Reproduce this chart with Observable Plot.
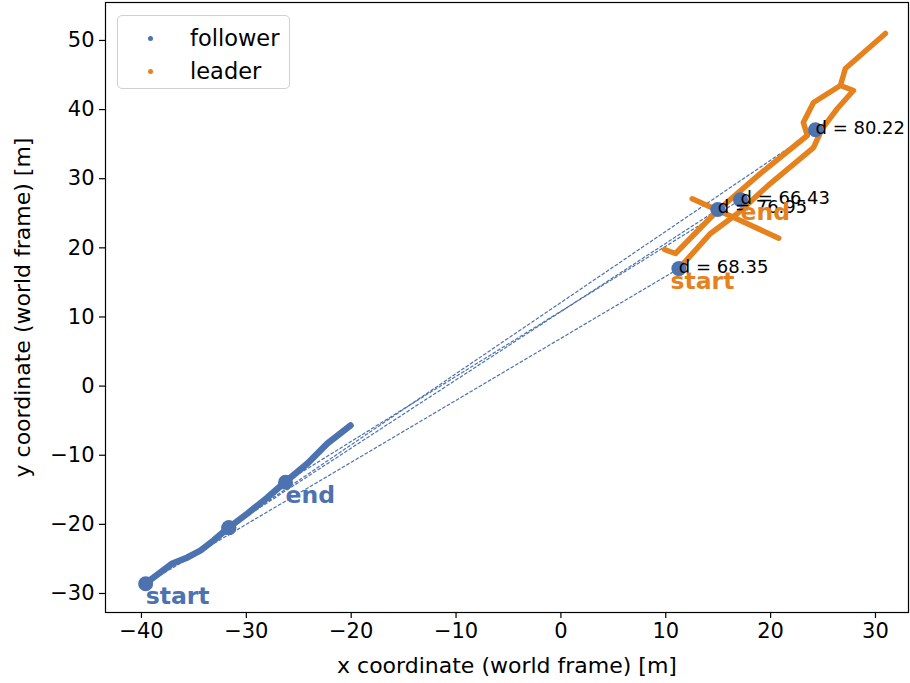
<!DOCTYPE html>
<html>
<head>
<meta charset="utf-8">
<script src="https://cdn.jsdelivr.net/npm/d3@7"></script>
<script src="https://cdn.jsdelivr.net/npm/@observablehq/plot@0.6"></script>
<style>
  body { margin: 0; background: #fff; }
  #chart { position: relative; width: 910px; height: 683px; font-family: "DejaVu Sans", sans-serif; }
  .legend {
    position: absolute; left: 117px; top: 15px; width: 173px; height: 74px;
    border: 1.5px solid #d0d0d0; border-radius: 5px; background: rgba(255,255,255,0.85);
    box-sizing: border-box;
  }
  .legend .row { position: absolute; left: 0; height: 30px; width: 100%; display: flex; align-items: center; }
  .legend .sw { position: absolute; left: 30px; width: 5px; height: 5px; border-radius: 50%; }
  .legend .lab { position: absolute; left: 72px; font-size: 22.5px; color: #000; white-space: nowrap; }
</style>
</head>
<body>
<div id="chart"></div>
<script>
const BLUE = "#4c72b0";
const ORANGE = "#e6821e";

// Follower trajectory (world frame, metres)
const followerX = [-39.6, -38.85, -37.04, -35.61, -34.37, -33.13, -31.79, -29.89, -27.98, -26.46, -24.17, -22.27, -20.07];
const followerY = [-28.56, -27.69, -25.66, -24.79, -23.78, -22.34, -20.6, -18.43, -16.12, -14.09, -11.2, -8.3, -5.7];

// Leader trajectory; segment id separates the two recorded pieces
const leaderX = [11.25, 14.27, 16.84, 19.97, 24.09, 24.94, 26.37, 27.9, 26.66, 27.13, 30.95, 27.13, 26.66, 24.09, 23.12, 23.5, 19.04, 14.94, 10.93, 9.88,
                 12.52, 16.6, 20.78];
const leaderY = [17.0, 22.08, 24.97, 29.3, 34.51, 37.27, 40.16, 42.76, 43.48, 45.94, 51.0, 45.94, 43.48, 41.02, 38.13, 36.25, 30.76, 25.4, 19.18, 19.76,
                 27.1, 24.3, 21.4];
const leaderSeg = [0, 0, 0, 0, 0, 0, 0, 0, 0, 0, 0, 0, 0, 0, 0, 0, 0, 0, 0, 0,
                   1, 1, 1];

// Sampled follower / leader positions and their separation
const pairFollowerX = [-39.6, -31.67, -31.67, -26.26];
const pairFollowerY = [-28.6, -20.5, -20.5, -13.9];
const pairLeaderX = [11.25, 24.28, 14.96, 17.13];
const pairLeaderY = [17.0, 37.08, 25.55, 26.95];
const pairDist = ["68.35", "80.22", "76.95", "66.43"];

// start / end markers
const tagText = ["start", "end", "start", "end"];
const tagX = [-39.6, -26.26, 10.45, 17.13];
const tagY = [-28.6, -13.9, 17.0, 26.95];
const tagColor = [BLUE, BLUE, ORANGE, ORANGE];

const xTicks = [-40, -30, -20, -10, 0, 10, 20, 30];
const yTicks = [-30, -20, -10, 0, 10, 20, 30, 40, 50];
const minus = d => (d < 0 ? "\u2212" + Math.abs(d) : String(d));

const idx = a => d3.range(a.length);

const plot = Plot.plot({
  width: 910,
  height: 683,
  marginLeft: 105,
  marginRight: 2,
  marginTop: 2,
  marginBottom: 71,
  x: { domain: [-43.43, 33.15] },
  y: { domain: [-32.75, 55.49] },
  style: { fontFamily: "DejaVu Sans", fontSize: "21px", color: "#000", background: "#fff" },
  marks: [
    Plot.axisX({ ticks: xTicks, tickFormat: minus, tickSize: 6, tickPadding: 5, label: null, strokeWidth: 1.2, fontSize: 21 }),
    Plot.axisY({ ticks: yTicks, tickFormat: minus, tickSize: 6, tickPadding: 5, label: null, strokeWidth: 1.2, fontSize: 21 }),
    Plot.text(["x coordinate (world frame) [m]"], { frameAnchor: "bottom", lineAnchor: "middle", textAnchor: "middle", dy: 53, fontSize: 22 }),
    Plot.text(["y coordinate (world frame) [m]"], { frameAnchor: "left", lineAnchor: "middle", textAnchor: "middle", rotate: -90, dx: -83, fontSize: 22 }),

    // separation lines between simultaneous positions
    Plot.link(idx(pairDist), {
      x1: pairFollowerX, y1: pairFollowerY, x2: pairLeaderX, y2: pairLeaderY,
      stroke: BLUE, strokeWidth: 1.2, strokeDasharray: "3.7,1.6"
    }),

    // trajectories
    Plot.line(idx(followerX), { x: followerX, y: followerY, stroke: BLUE, strokeWidth: 6.5, strokeLinecap: "round", strokeLinejoin: "round" }),
    Plot.line(idx(leaderX), { x: leaderX, y: leaderY, z: leaderSeg, stroke: ORANGE, strokeWidth: 5.5, strokeLinecap: "round", strokeLinejoin: "round" }),

    // sampled positions
    Plot.dot(idx(pairFollowerX), { x: pairFollowerX, y: pairFollowerY, r: 7.5, fill: BLUE }),
    Plot.dot(idx(pairLeaderX), { x: pairLeaderX, y: pairLeaderY, r: 7.5, fill: BLUE }),

    // distance annotations
    Plot.text(idx(pairDist), {
      x: pairLeaderX, y: pairLeaderY, text: i => "d = " + pairDist[i],
      textAnchor: "start", lineAnchor: "bottom", dy: 4, fontSize: 18, fill: "#000"
    }),

    // start / end tags
    Plot.text(idx(tagText), {
      x: tagX, y: tagY, text: i => tagText[i], fill: i => tagColor[i],
      textAnchor: "start", lineAnchor: "top", dy: 4, fontSize: 23.5, fontWeight: "bold"
    }),

    Plot.frame({ stroke: "#000", strokeWidth: 1.2 })
  ]
});

const chart = document.getElementById("chart");
chart.appendChild(plot);

// legend inside the axes, upper left
const legend = document.createElement("div");
legend.className = "legend";
[["follower", BLUE, 7], ["leader", ORANGE, 40]].forEach(([name, color, top]) => {
  const row = document.createElement("div");
  row.className = "row";
  row.style.top = top + "px";
  const sw = document.createElement("span");
  sw.className = "sw";
  sw.style.background = color;
  const lab = document.createElement("span");
  lab.className = "lab";
  lab.textContent = name;
  row.appendChild(sw);
  row.appendChild(lab);
  legend.appendChild(row);
});
chart.appendChild(legend);
</script>
</body>
</html>
